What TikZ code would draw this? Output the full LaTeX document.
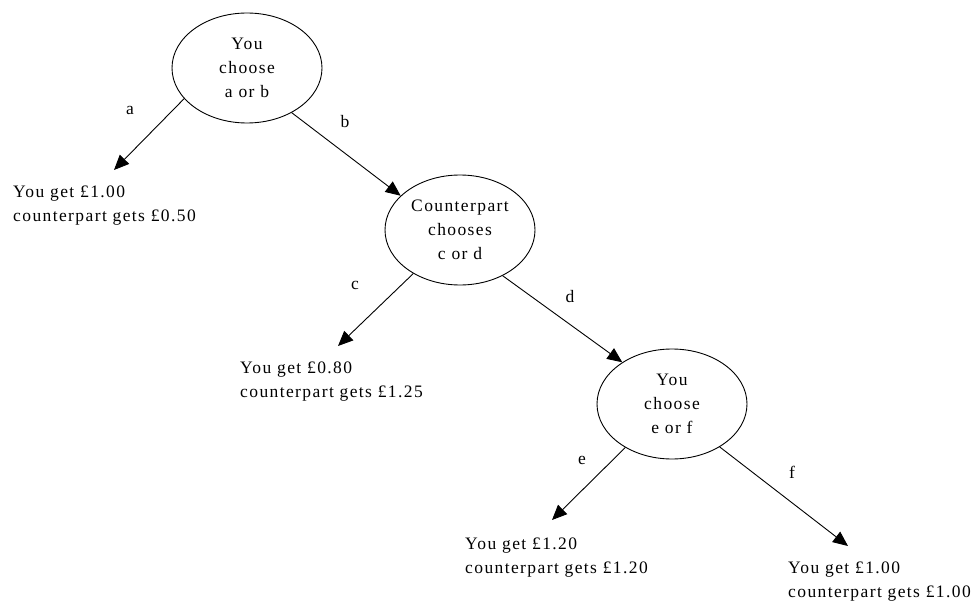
\documentclass[tikz,border=0pt]{standalone}
\usepackage{fontspec}
\setmainfont{Liberation Serif}[LetterSpace=8]
\usetikzlibrary{shapes.geometric,arrows.meta}
\begin{document}
\begin{tikzpicture}[x=1pt,y=-1pt,
  every node/.style={font=\fontsize{17.5}{24}\selectfont},
  choice/.style={draw,ellipse,line width=0.9pt,minimum width=150pt,minimum height=110pt,inner sep=0pt,align=center},
  leaf/.style={anchor=base west,align=left,inner sep=0pt},
  lbl/.style={inner sep=0pt},
  edge/.style={line width=0.9pt,-{Triangle[length=15pt,width=13pt]}}]
\useasboundingbox[fill=white] (0,0) rectangle (974,604);
\node[choice] (n1) at (247,68) {You\\choose\\a or b};
\node[choice] (n2) at (460,230) {Counterpart\\chooses\\c or d};
\node[choice] (n3) at (672,404) {You\\choose\\e or f};
\coordinate (ta) at (114,170);
\coordinate (tc) at (338,346);
\coordinate (te) at (552,520);
\coordinate (tf) at (848,546);
\node[leaf] (la) at (13,222) {You get £1.00\\counterpart gets £0.50};
\node[leaf] (lc) at (240,397) {You get £0.80\\counterpart gets £1.25};
\node[leaf] (le) at (465,573) {You get £1.20\\counterpart gets £1.20};
\node[leaf] (lf) at (788,597) {You get £1.00\\counterpart gets £1.00};
\draw[edge] (n1.206) -- (ta);
\draw[edge] (n1.315) -- (n2.150);
\draw[edge] (n2.223) -- (tc);
\draw[edge] (n2.313) -- (n3.140);
\draw[edge] (n3.223) -- (te);
\draw[edge] (n3.318) -- (tf);
\node[lbl] (a) at (130,110) {a};
\node[lbl] (b) at (345,122) {b};
\node[lbl] (c) at (355,285) {c};
\node[lbl] (d) at (570,297) {d};
\node[lbl] (e) at (582,460) {e};
\node[lbl] (f) at (792,472) {f};
\end{tikzpicture}
\end{document}
